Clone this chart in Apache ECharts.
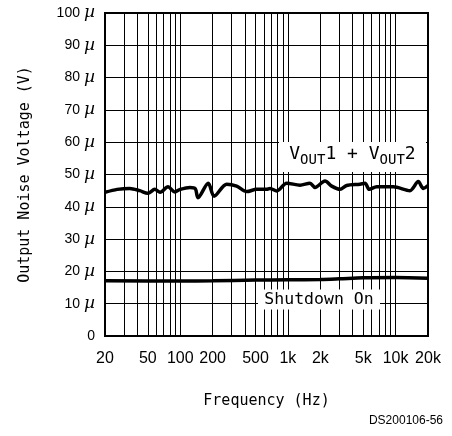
<!DOCTYPE html>
<html>
<head>
<meta charset="utf-8">
<script src="https://cdn.jsdelivr.net/npm/echarts@6/dist/echarts.min.js"></script>
<style>
    html, body { margin: 0; padding: 0; background: #fff; }
    #chart { width: 452px; height: 436px; }
</style>
</head>
<body>
<div id="chart"></div>
<script>
const freqTop = [20, 26, 34, 42, 50, 58, 65, 77, 89, 100, 123, 138, 146, 182, 206, 270, 334, 414, 513, 635, 682, 787, 974, 1295, 1603, 1784, 2210, 2551, 3045, 3514, 4671, 5198, 5698, 6675, 9520, 13600, 16250, 18090, 20000]
const noiseTop = [44.5, 45.4, 45.7, 45.0, 44.2, 45.4, 44.5, 46.2, 44.6, 45.4, 46.0, 45.6, 42.8, 47.3, 43.3, 47.0, 46.4, 44.7, 45.4, 45.4, 45.7, 44.9, 47.3, 46.7, 47.3, 46.0, 48.0, 46.4, 45.4, 46.6, 47.0, 47.3, 45.4, 46.2, 46.2, 45.0, 47.8, 45.7, 46.6]

const freqShutdown = [20, 100, 200, 500, 1000, 2000, 3000, 5000, 10000, 20000]
const noiseShutdown = [17.1, 17.0, 17.1, 17.3, 17.4, 17.5, 17.7, 18.0, 18.1, 17.9]

const gridFreqs = [20, 30, 40, 50, 60, 70, 80, 90, 100, 200, 300, 400, 500, 600, 700, 800, 900, 1000, 2000, 3000, 4000, 5000, 6000, 7000, 8000, 9000, 10000, 20000]
const labelFreqs = [20, 50, 100, 200, 500, 1000, 2000, 5000, 10000, 20000]

const voutLabelAt = [3978, 55.4]
const shutdownLabelAt = [1944, 11.3]

const toPairs = (xs, ys) => xs.map((x, i) => [x, ys[i]])

const sans = 'Liberation Sans'
const mono = 'DejaVu Sans Mono'

function initChart() {
    const chart = echarts.init(document.getElementById('chart'), null, { renderer: 'canvas' })
    chart.setOption({
        animation: false,
        grid: {
            left: 105,
            top: 13,
            right: 24,
            bottom: 100,
            show: true,
            borderColor: '#000',
            borderWidth: 2,
            backgroundColor: 'transparent'
        },
        xAxis: {
            type: 'log',
            logBase: 10,
            min: 20,
            max: 20000,
            name: 'Frequency (Hz)',
            nameLocation: 'middle',
            nameGap: 58,
            nameTextStyle: { color: '#000', fontFamily: mono, fontSize: 15 },
            axisLine: { show: false },
            axisTick: { show: false, customValues: gridFreqs },
            splitLine: { show: true, lineStyle: { color: '#000', width: 1 } },
            minorSplitLine: { show: false },
            axisLabel: {
                customValues: labelFreqs,
                margin: 15,
                color: '#000',
                fontFamily: sans,
                fontSize: 16,
                formatter: v => v >= 1000 ? (v / 1000) + 'k' : String(v)
            }
        },
        yAxis: {
            type: 'value',
            min: 0,
            max: 100,
            interval: 10,
            name: 'Output Noise Voltage (V)',
            nameLocation: 'middle',
            nameGap: 72,
            nameTextStyle: { color: '#000', fontFamily: mono, fontSize: 15 },
            axisLine: { show: false },
            axisTick: { show: false },
            splitLine: { show: true, lineStyle: { color: '#000', width: 1 } },
            axisLabel: {
                margin: 10,
                color: '#000',
                fontFamily: sans,
                fontSize: 14,
                formatter: v => v === 0 ? '0' : v + '{mu|\u00b5}',
                rich: {
                    mu: { fontFamily: 'DejaVu Serif', fontStyle: 'italic', fontSize: 17, color: '#000', padding: [0, 0, 0, 4] }
                }
            }
        },
        series: [{
            name: 'VOUT1 + VOUT2',
            type: 'line',
            data: toPairs(freqTop, noiseTop),
            smooth: 0.3,
            showSymbol: false,
            lineStyle: { color: '#000', width: 3.5 },
            markPoint: {
                silent: true,
                symbol: 'rect',
                symbolSize: [147, 30],
                itemStyle: { color: '#fff' },
                label: {
                    show: true,
                    position: 'inside',
                    color: '#000',
                    formatter: '{b|V}{s|OUT}{b|1 + V}{s|OUT}{b|2}',
                    rich: {
                        b: { fontFamily: mono, fontSize: 18, lineHeight: 18, padding: [0, 0, 6, 0], color: '#000' },
                        s: { fontFamily: mono, fontSize: 14, lineHeight: 18, padding: [6, 0, 0, 0], color: '#000' }
                    }
                },
                data: [{ coord: voutLabelAt }]
            }
        }, {
            name: 'Shutdown On',
            type: 'line',
            data: toPairs(freqShutdown, noiseShutdown),
            smooth: 0.3,
            showSymbol: false,
            lineStyle: { color: '#000', width: 3.5 },
            markPoint: {
                silent: true,
                symbol: 'rect',
                symbolSize: [122, 20],
                itemStyle: { color: '#fff' },
                label: {
                    show: true,
                    position: 'inside',
                    color: '#000',
                    fontFamily: mono,
                    fontSize: 16.5,
                    formatter: 'Shutdown On'
                },
                data: [{ coord: shutdownLabelAt }]
            }
        }],
        graphic: [{
            type: 'text',
            right: 9,
            top: 415,
            style: { text: 'DS200106-56', fill: '#000', font: '12px "Liberation Sans"' }
        }]
    })
    return chart
}

initChart()
</script>
</body>
</html>
